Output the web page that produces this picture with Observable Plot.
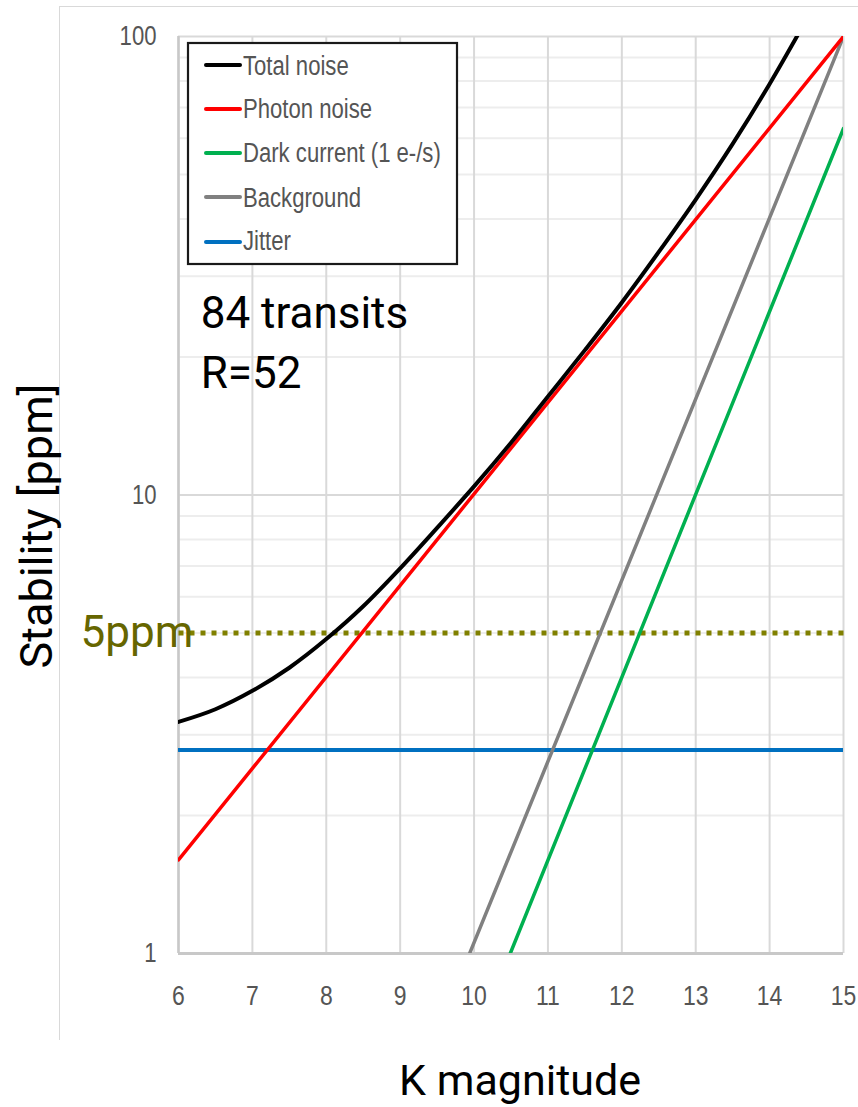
<!DOCTYPE html>
<html>
<head>
<meta charset="utf-8">
<script src="https://cdn.jsdelivr.net/npm/d3@7"></script>
<script src="https://cdn.jsdelivr.net/npm/@observablehq/plot@0.6"></script>
<style>
  html, body { margin: 0; padding: 0; background: white; }
  #wrap { position: relative; width: 858px; height: 1107px; overflow: hidden; }
  #wrap svg { position: absolute; left: 0; top: 0; }
  #frame { position: absolute; left: 59px; top: 6px; width: 810px; height: 1034px;
           border-top: 1px solid #d9d9d9; border-left: 1px solid #d9d9d9; box-sizing: border-box; }
</style>
</head>
<body>
<div id="wrap">
  <div id="frame"></div>
</div>
<script>
// ---- data ----
const xTicks = [6, 7, 8, 9, 10, 11, 12, 13, 14, 15];
const yTicks = [1, 10, 100];
const yMinor = [2, 3, 4, 5, 6, 7, 8, 9, 20, 30, 40, 50, 60, 70, 80, 90];

const totalX = [6, 6.5, 7, 7.5, 8, 8.5, 9, 9.5, 10, 10.5, 11, 11.5, 12, 12.5, 13, 13.5, 14, 14.5];
const totalY = [3.2, 3.41, 3.74, 4.2, 4.85, 5.72, 6.92, 8.48, 10.44, 13.0, 16.4, 20.7, 26.3, 33.9, 44.1, 58.3, 78.8, 109];

const photonX = [6, 15];
const photonY = [1.6, 100];

const darkX = [10.49, 15];
const darkY = [1, 63];

const bgX = [9.94, 15];
const bgY = [1, 100];

const jitterX = [6, 15];
const jitterY = [2.78, 2.78];

const thresholdX = [6, 15];
const thresholdY = [5, 5];

const seriesNames = ["Total noise", "Photon noise", "Dark current (1 e-/s)", "Background", "Jitter"];
const seriesColors = ["#000000", "#ff0000", "#00b050", "#808080", "#0070c0"];

const annotations = ["84 transits", "R=52"];
const annotX = [6.3, 6.3];
const annotY = [23.1, 17.1];

// ---- build tables ----
const toRows = (xs, ys) => xs.map((x, i) => ({x, y: ys[i]}));
const total = toRows(totalX, totalY);
const photon = toRows(photonX, photonY);
const dark = toRows(darkX, darkY);
const bg = toRows(bgX, bgY);
const jitter = toRows(jitterX, jitterY);
const thresh = toRows(thresholdX, thresholdY);
const ann = annotations.map((t, i) => ({t, x: annotX[i], y: annotY[i]}));

const big = "Roboto, 'Open Sans', sans-serif";
const small = "'Liberation Sans', Arial, sans-serif";

const chart = Plot.plot({
  width: 858,
  height: 1107,
  marginLeft: 178,
  marginRight: 15,
  marginTop: 36,
  marginBottom: 154,
  style: {fontFamily: small, background: "transparent", overflow: "visible"},
  x: {domain: [6, 15]},
  y: {type: "log", domain: [1, 100]},
  marks: [
    Plot.ruleY(yMinor, {stroke: "#ededed", strokeWidth: 2}),
    Plot.ruleY(yTicks, {stroke: "#d9d9d9", strokeWidth: 2}),
    Plot.ruleX(xTicks, {stroke: "#d9d9d9", strokeWidth: 2}),
    Plot.ruleX([6], {stroke: "#c8c8c8", strokeWidth: 2.5}),
    Plot.ruleY([1], {stroke: "#c8c8c8", strokeWidth: 3}),
    Plot.axisX({ticks: xTicks, tickSize: 0, tickPadding: 32, fontSize: 28, color: "#555555", label: null, tickFormat: d => d}),
    Plot.axisY({ticks: yTicks, tickSize: 0, tickPadding: 22, fontSize: 27, color: "#555555", label: null, tickFormat: d => d}),
    Plot.line(thresh, {x: "x", y: "y", stroke: "#808000", strokeWidth: 5, strokeDasharray: "5,6", strokeLinecap: "butt"}),
    Plot.line(jitter, {x: "x", y: "y", stroke: seriesColors[4], strokeWidth: 4, clip: true}),
    Plot.line(bg, {x: "x", y: "y", stroke: seriesColors[3], strokeWidth: 3.5, clip: true}),
    Plot.line(dark, {x: "x", y: "y", stroke: seriesColors[2], strokeWidth: 3.5, clip: true}),
    Plot.line(photon, {x: "x", y: "y", stroke: seriesColors[1], strokeWidth: 3.5, clip: true}),
    Plot.line(total, {x: "x", y: "y", stroke: seriesColors[0], strokeWidth: 4, curve: "monotone-x", clip: true}),
    Plot.text(ann, {x: "x", y: "y", text: "t", textAnchor: "start", lineAnchor: "bottom", fontSize: 44, fontFamily: big, fill: "#000"}),
    Plot.text(["5ppm"], {x: () => 6, y: () => 5, text: d => d, textAnchor: "start", dx: -98, fontSize: 44, fontFamily: big, fill: "#666600"}),
    Plot.text(["Stability [ppm]"], {frameAnchor: "left", text: d => d, rotate: -90, textAnchor: "middle", lineAnchor: "middle", dx: -141, dy: 31, fontSize: 45, fontFamily: big, fill: "#000"}),
    Plot.text(["K magnitude"], {frameAnchor: "bottom", text: d => d, textAnchor: "middle", lineAnchor: "bottom", dx: 9, dy: 141, fontSize: 43, fontFamily: big, fill: "#000"})
  ]
});

// condense the tick labels horizontally (Calibri-like narrow look)
function condense(sel, k) {
  sel.each(function () {
    const t = this.getAttribute("transform");
    if (t) {
      this.setAttribute("transform", t + ` scale(${k},1)`);
    } else {
      const x = +this.getAttribute("x") || 0, y = +this.getAttribute("y") || 0;
      this.setAttribute("transform", `translate(${x},${y}) scale(${k},1) translate(${-x},${-y})`);
    }
  });
}
condense(d3.select(chart).selectAll('g[aria-label="x-axis tick label"] text, g[aria-label="y-axis tick label"] text'), 0.82);

const wrap = document.getElementById("wrap");
wrap.appendChild(chart);

// legend (overlay)
const legendBox = {left: 188, top: 43, right: 457, bottom: 264};
const rowBaselines = [75, 118, 162, 207, 250];
const swatchY = [65, 109, 153, 197, 242];
const lg = d3.create("svg")
  .attr("width", 858).attr("height", 1107)
  .style("position", "absolute").style("left", "0px").style("top", "0px");
lg.append("rect")
  .attr("x", legendBox.left).attr("y", legendBox.top)
  .attr("width", legendBox.right - legendBox.left).attr("height", legendBox.bottom - legendBox.top)
  .attr("fill", "white").attr("stroke", "#1a1a1a").attr("stroke-width", 2.2);
seriesNames.forEach((name, i) => {
  lg.append("line")
    .attr("x1", 206).attr("x2", 240).attr("y1", swatchY[i]).attr("y2", swatchY[i])
    .attr("stroke", seriesColors[i]).attr("stroke-width", 4).attr("stroke-linecap", "round");
  lg.append("text")
    .attr("transform", `translate(243,${rowBaselines[i]}) scale(0.79,1)`)
    .attr("font-family", small).attr("font-size", 28).attr("fill", "#555555")
    .text(name);
});
wrap.appendChild(lg.node());
</script>
</body>
</html>
